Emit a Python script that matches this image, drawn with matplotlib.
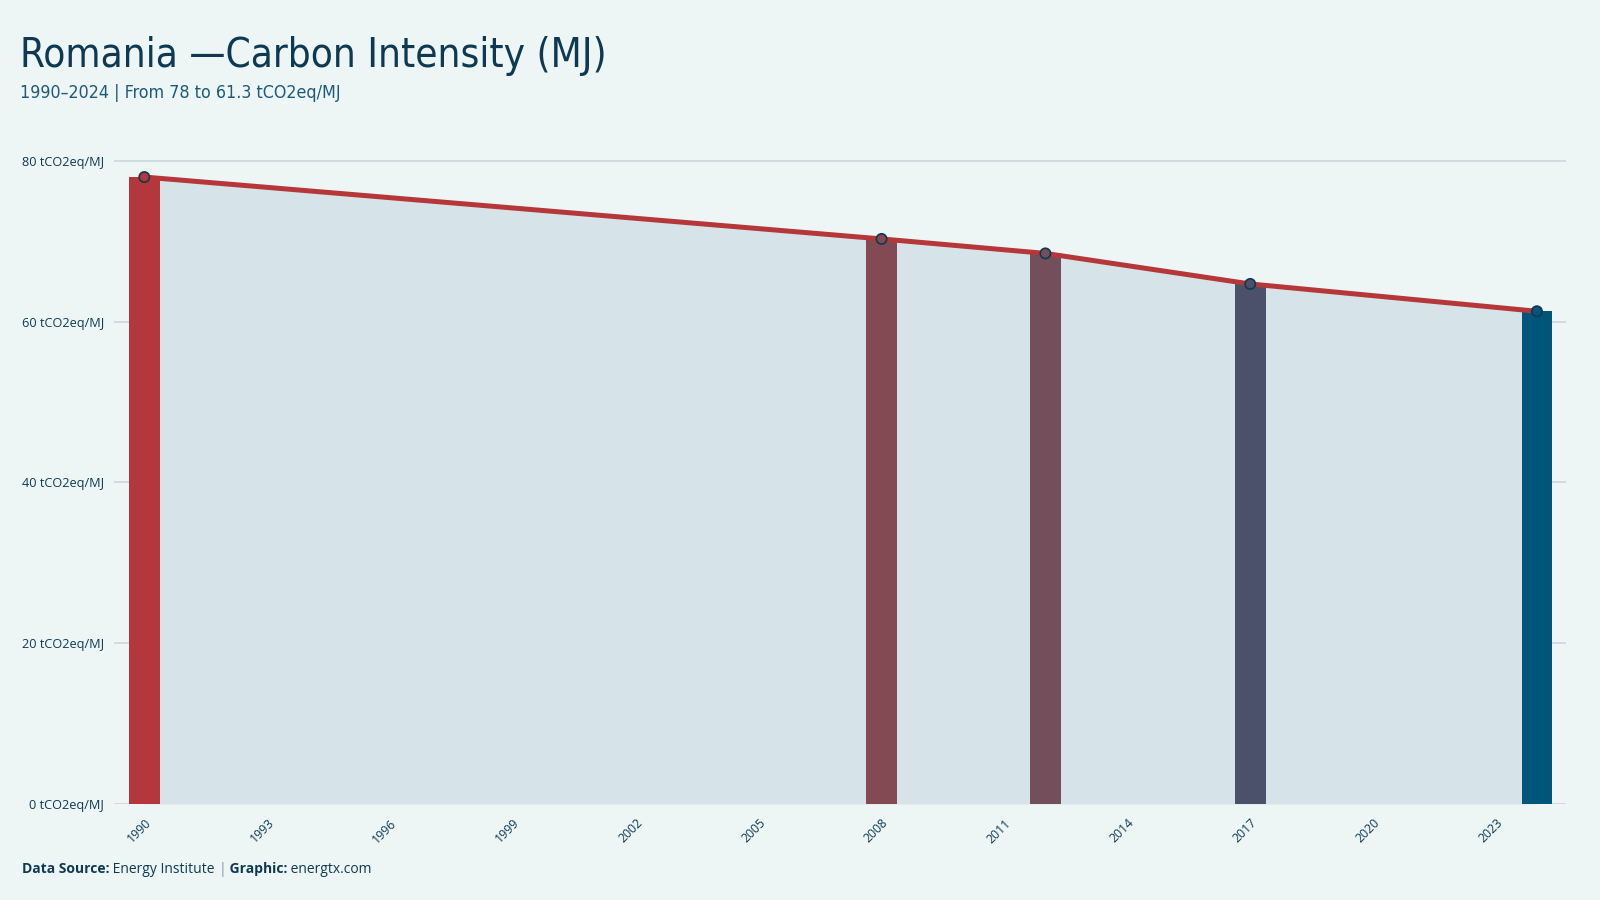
import matplotlib
matplotlib.use("Agg")
import matplotlib.pyplot as plt
from matplotlib.ticker import FuncFormatter

# ---- data ----
years = [1990, 2008, 2012, 2017, 2024]
values = [78.0, 70.3, 68.5, 64.7, 61.3]
xticks = list(range(1990, 2024, 3))
yticks = [0, 20, 40, 60, 80]
unit = "tCO2eq/MJ"
title = "Romania —Carbon Intensity (MJ)"
subtitle = "1990–2024 | From 78 to 61.3 tCO2eq/MJ"

# ---- styles ----
bar_colors = ["#b4383b", "#834a53", "#734f5c", "#4c516b", "#00567a"]
bg = "#eef5f5"
navy = "#0d3a52"
sub_col = "#1d5a7a"
line_col = "#b5373a"
area_col = "#d6e3e8"
grid_col = "#cdd9de"
body_font = ["Open Sans", "DejaVu Sans"]

fig = plt.figure(figsize=(16, 9), dpi=100, facecolor=bg)
ax = fig.add_axes([0.071, 0.1067, 0.908, 0.7323])
ax.set_facecolor(bg)

ax.fill_between(years, values, 0, color=area_col, lw=0, zorder=1)
ax.bar(years, values, width=0.75, color=bar_colors, zorder=2)
ax.plot(years, values, color=line_col, lw=3.6, zorder=3, solid_capstyle="butt")
ax.scatter(years, values, s=55, c=bar_colors, edgecolors=navy, linewidths=1.2, zorder=4)

ax.set_xlim(1989.25, 2024.72)
ax.set_ylim(0, 82)
ax.set_yticks(yticks)
ax.yaxis.set_major_formatter(FuncFormatter(lambda v, p: f"{v:.0f} {unit}"))
ax.set_xticks(xticks)
ax.set_xticklabels([str(x) for x in xticks], rotation=45, ha="right",
                   rotation_mode="anchor", va="top")
ax.grid(axis="y", color=grid_col, lw=1.3, zorder=0)
ax.set_axisbelow(True)
for s in ax.spines.values():
    s.set_visible(False)
ax.tick_params(axis="both", length=0, colors=navy)
ax.tick_params(axis="y", pad=7, labelsize=9.2)
ax.tick_params(axis="x", pad=9, labelsize=8.8)
for lbl in ax.get_xticklabels() + ax.get_yticklabels():
    lbl.set_family(body_font)

fig.text(0.0125, 0.925, title, fontsize=29, color=navy,
         family=["DejaVu Sans"], fontstretch="condensed", va="baseline")
fig.text(0.0125, 0.891, subtitle, fontsize=12.8, color=sub_col,
         family=["DejaVu Sans"], fontstretch="condensed", va="baseline")

# caption composed of pieces
renderer = fig.canvas.get_renderer()
pieces = [("Data Source:", "bold", navy), (" Energy Institute ", "normal", navy),
          ("|", "normal", "#7f9cad"), (" Graphic:", "bold", navy),
          (" energtx.com", "normal", navy)]
x = 0.0135
for txt, wt, col in pieces:
    t = fig.text(x, 0.0305, txt, fontsize=10, fontweight=wt, color=col,
                 family=body_font, va="baseline")
    bb = t.get_window_extent(renderer=renderer)
    x += bb.width / fig.bbox.width

fig.savefig("out.png", dpi=100, facecolor=bg)
